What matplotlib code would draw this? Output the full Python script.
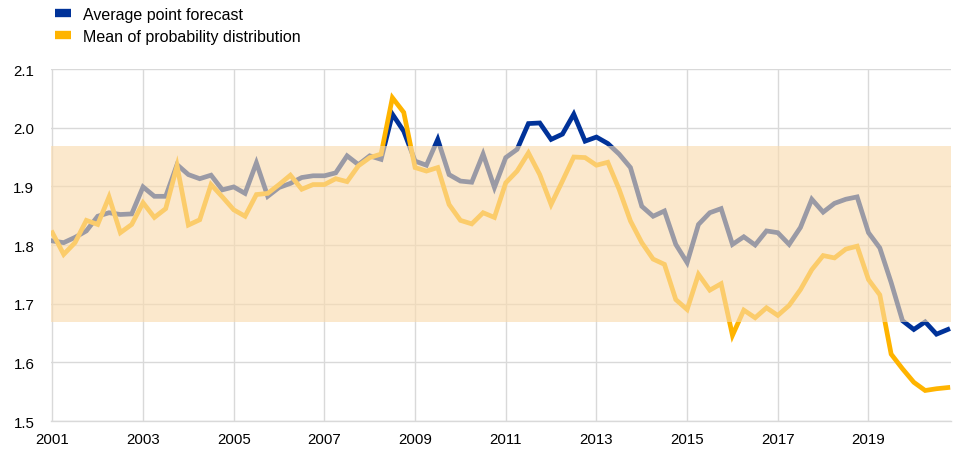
import numpy as np
import matplotlib.pyplot as plt
from matplotlib.lines import Line2D

plt.rcParams['font.family'] = ['Liberation Sans', 'DejaVu Sans']

# 분기별 데이터 (2001Q1 ~ 2020Q4)
start_year = 2001
point_forecast = [
    1.807, 1.804, 1.813, 1.824, 1.849, 1.855, 1.852, 1.853,
    1.899, 1.883, 1.883, 1.937, 1.920, 1.913, 1.919, 1.894,
    1.899, 1.888, 1.940, 1.883, 1.898, 1.905, 1.915, 1.918,
    1.918, 1.923, 1.952, 1.937, 1.952, 1.946, 2.023, 1.994,
    1.943, 1.936, 1.980, 1.920, 1.909, 1.907, 1.955, 1.898,
    1.949, 1.963, 2.007, 2.008, 1.980, 1.989, 2.023, 1.977,
    1.984, 1.973, 1.955, 1.932, 1.866, 1.849, 1.858, 1.801,
    1.770, 1.835, 1.855, 1.862, 1.801, 1.814, 1.800, 1.824,
    1.821, 1.801, 1.830, 1.878, 1.856, 1.871, 1.878, 1.882,
    1.821, 1.795, 1.736, 1.671, 1.656, 1.669, 1.648, 1.656,
]
prob_mean = [
    1.821, 1.784, 1.804, 1.842, 1.835, 1.882, 1.821, 1.835,
    1.872, 1.847, 1.862, 1.935, 1.834, 1.843, 1.903, 1.882,
    1.860, 1.849, 1.886, 1.888, 1.903, 1.919, 1.895, 1.903,
    1.903, 1.913, 1.908, 1.935, 1.949, 1.955, 2.051, 2.026,
    1.932, 1.926, 1.932, 1.869, 1.842, 1.836, 1.855, 1.847,
    1.906, 1.926, 1.957, 1.920, 1.869, 1.909, 1.950, 1.949,
    1.936, 1.941, 1.895, 1.841, 1.804, 1.776, 1.767, 1.707,
    1.690, 1.750, 1.723, 1.734, 1.646, 1.689, 1.676, 1.693,
    1.680, 1.697, 1.724, 1.758, 1.782, 1.778, 1.793, 1.798,
    1.741, 1.715, 1.614, 1.589, 1.566, 1.552, 1.555, 1.557,
]
band_low = 1.668
band_high = 1.968
year_ticks = list(range(2001, 2020, 2))
y_ticks = [1.5, 1.6, 1.7, 1.8, 1.9, 2.0, 2.1]

labels = ['Average point forecast', 'Mean of probability distribution']
blue = '#003299'
yellow = '#ffb400'
grid_c = '#d9d9d9'

x = start_year + np.arange(len(point_forecast)) / 4

fig = plt.figure(figsize=(9.55, 4.52), dpi=100)
ax = fig.add_axes([51 / 955, 30 / 452, 900 / 955, 352 / 452])

ax.plot(x, point_forecast, color=blue, lw=3.4, solid_joinstyle='miter', zorder=3)
ax.plot(x, prob_mean, color=yellow, lw=3.4, solid_joinstyle='miter', zorder=4)

# 반투명 밴드를 선 위에 덮어서 밴드 안쪽 구간을 흐리게 표시
ax.axhspan(band_low, band_high, color='#fadbae', alpha=0.62, lw=0, zorder=5)

ax.set_xlim(start_year - 0.03, x[-1] + 0.07)
ax.set_ylim(1.5, 2.1)
ax.set_xticks(year_ticks)
ax.set_xticklabels([str(y) for y in year_ticks])
ax.set_yticks(y_ticks)
ax.set_yticklabels([f'{v:.1f}' for v in y_ticks])
ax.tick_params(length=0, labelsize=10.8, colors='black', pad=8)
ax.tick_params(axis='y', pad=12)
ax.grid(True, color=grid_c, lw=1.0, zorder=0)
ax.set_axisbelow(True)
for side in ['top', 'right', 'left']:
    ax.spines[side].set_visible(False)
ax.spines['bottom'].set_color(grid_c)
ax.spines['bottom'].set_linewidth(1.0)

handles = [Line2D([0], [0], color=blue, lw=6, solid_capstyle='butt'),
           Line2D([0], [0], color=yellow, lw=6, solid_capstyle='butt')]
fig.legend(handles, labels, loc='upper left', bbox_to_anchor=(0.043, 1.015),
           frameon=False, fontsize=11.5, handlelength=1.0, handletextpad=0.7,
           labelspacing=0.45)

plt.savefig('out.png', dpi=100)
